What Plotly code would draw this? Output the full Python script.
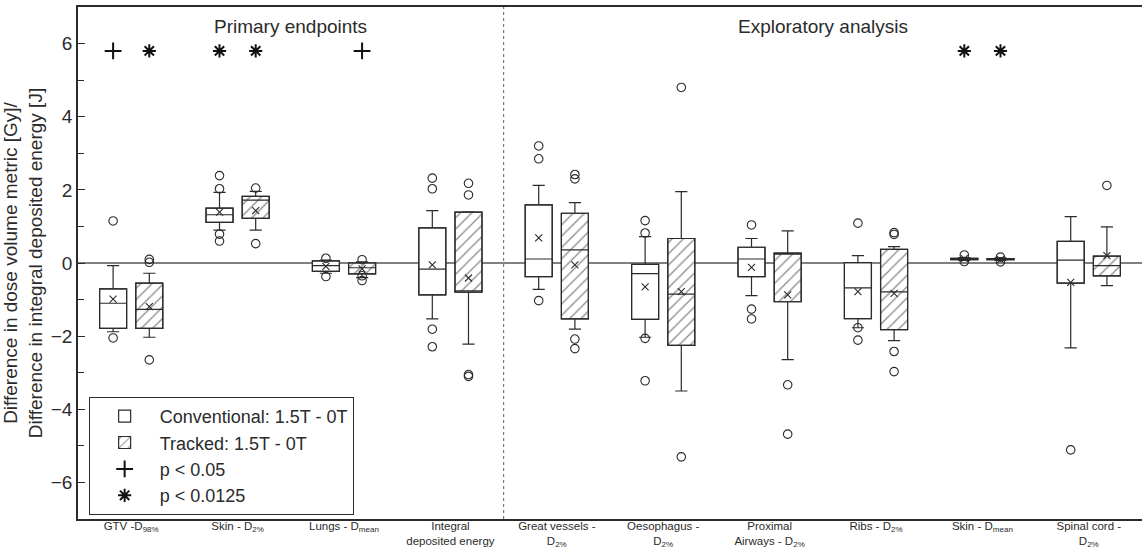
import plotly.graph_objects as go

# ---------------- data ----------------
categories = [
    "GTV -D<sub>98%</sub>",
    "Skin - D<sub>2%</sub>",
    "Lungs - D<sub>mean</sub>",
    "Integral<br>deposited energy",
    "Great vessels -<br>D<sub>2%</sub>",
    "Oesophagus -<br>D<sub>2%</sub>",
    "Proximal<br>Airways - D<sub>2%</sub>",
    "Ribs - D<sub>2%</sub>",
    "Skin - D<sub>mean</sub>",
    "Spinal cord -<br>D<sub>2%</sub>",
]

conv_lower = [-1.88, 0.90, -0.28, -1.53, -0.72, -2.03, -0.89, -1.77, 0.07, -2.32]
conv_q1 = [-1.79, 1.11, -0.23, -0.87, -0.37, -1.54, -0.37, -1.52, 0.09, -0.55]
conv_median = [-1.10, 1.32, -0.07, -0.17, 0.11, -0.29, 0.11, -0.68, 0.11, 0.08]
conv_q3 = [-0.71, 1.50, 0.06, 0.96, 1.59, -0.04, 0.43, 0.01, 0.13, 0.59]
conv_upper = [-0.07, 1.93, 0.08, 1.43, 2.12, 0.72, 0.67, 0.20, 0.15, 1.27]
conv_mean = [-0.99, 1.39, -0.09, -0.05, 0.69, -0.65, -0.12, -0.78, 0.12, -0.53]
conv_outliers = [
    [1.15, -2.05], [2.39, 2.03, 0.79, 0.60], [0.13, -0.37],
    [2.32, 2.03, -1.81, -2.29], [3.20, 2.85, -1.03], [1.16, 0.82, -2.06, -3.22],
    [1.04, -1.26, -1.53], [1.09, -1.77, -2.11], [0.22, 0.04], [-5.11],
]

trk_lower = [-2.03, 0.90, -0.40, -2.22, -1.81, -3.50, -2.64, -2.12, 0.07, -0.62]
trk_q1 = [-1.79, 1.22, -0.30, -0.80, -1.53, -2.25, -1.06, -1.82, 0.09, -0.35]
trk_median = [-1.27, 1.72, -0.13, -0.76, 0.36, -0.85, 0.24, -0.79, 0.10, -0.07]
trk_q3 = [-0.55, 1.82, 0.00, 1.39, 1.36, 0.67, 0.27, 0.37, 0.12, 0.19]
trk_upper = [-0.28, 1.96, 0.03, 1.40, 1.65, 1.95, 0.88, 0.45, 0.14, 0.99]
trk_mean = [-1.19, 1.43, -0.16, -0.41, -0.05, -0.78, -0.87, -0.83, 0.09, 0.20]
trk_outliers = [
    [0.10, 0.02, -2.65], [2.05, 0.53], [0.09, -0.35, -0.48],
    [2.18, 1.86, -3.05, -3.10], [2.42, 2.30, -2.08, -2.34], [4.80, -5.30],
    [-3.33, -4.68], [0.83, 0.78, -2.42, -2.97], [0.16, 0.03], [2.12],
]

# significance markers ('+' : p<0.05, '*' : p<0.0125)
sig_conv = ["+", "*", "", "", "", "", "", "", "*", ""]
sig_trk = ["*", "*", "+", "", "", "", "", "", "*", ""]
sig_level = 5.8

y_ticks = [-6, -4, -2, 0, 2, 4, 6]

# ---------------- styling ----------------
FONT = "Liberation Sans, Arial, Helvetica, sans-serif"
INK = "#2b2b2b"
OFF = 0.17
BW = 0.254

conv_x = [i - OFF for i in range(len(categories))]
trk_x = [i + OFF for i in range(len(categories))]

fig = go.Figure()

# box bodies (bars give fill / hatch, drawn below box outlines)
fig.add_trace(go.Bar(
    x=conv_x, base=conv_q1, y=[b - a for a, b in zip(conv_q1, conv_q3)],
    width=BW, name="Conventional: 1.5T - 0T",
    marker=dict(color="white", line=dict(color=INK, width=1.2)),
    hoverinfo="skip",
))
fig.add_trace(go.Bar(
    x=trk_x, base=trk_q1, y=[b - a for a, b in zip(trk_q1, trk_q3)],
    width=BW, name="Tracked: 1.5T - 0T",
    marker=dict(color="white", line=dict(color=INK, width=1.2),
                pattern=dict(shape="/", fillmode="overlay", fgcolor="#222",
                             bgcolor="white", size=8, solidity=0.17)),
    hoverinfo="skip",
))

# box plots (precomputed statistics)
for xs, lo, q1, med, q3, up in [
    (conv_x, conv_lower, conv_q1, conv_median, conv_q3, conv_upper),
    (trk_x, trk_lower, trk_q1, trk_median, trk_q3, trk_upper),
]:
    fig.add_trace(go.Box(
        x=xs, lowerfence=lo, q1=q1, median=med, q3=q3, upperfence=up,
        width=BW, whiskerwidth=0.45, boxpoints=False,
        fillcolor="rgba(0,0,0,0)", line=dict(color=INK, width=1.2),
        showlegend=False, hoverinfo="skip",
    ))

# means
fig.add_trace(go.Scatter(
    x=conv_x + trk_x, y=conv_mean + trk_mean, mode="markers",
    marker=dict(symbol="x-thin-open", size=7, color=INK, line=dict(color=INK, width=1.1)),
    showlegend=False, hoverinfo="skip",
))

# outliers
ox, oy = [], []
for xs, outs in [(conv_x, conv_outliers), (trk_x, trk_outliers)]:
    for xv, vals in zip(xs, outs):
        for v in vals:
            ox.append(xv)
            oy.append(v)
fig.add_trace(go.Scatter(
    x=ox, y=oy, mode="markers",
    marker=dict(symbol="circle-open", size=8.5, color=INK, line=dict(color=INK, width=1.1)),
    showlegend=False, hoverinfo="skip",
))

# significance markers
plus_x = [x for x, s in zip(conv_x + trk_x, sig_conv + sig_trk) if s == "+"]
star_x = [x for x, s in zip(conv_x + trk_x, sig_conv + sig_trk) if s == "*"]
fig.add_trace(go.Scatter(
    x=plus_x, y=[sig_level] * len(plus_x), mode="markers", name="p < 0.05",
    marker=dict(symbol="cross-thin-open", size=12, color="#111", line=dict(color="#111", width=2)),
    hoverinfo="skip",
))
fig.add_trace(go.Scatter(
    x=star_x, y=[sig_level] * len(star_x), mode="markers", name="p < 0.0125",
    marker=dict(symbol="asterisk-open", size=11, color="#111", line=dict(color="#111", width=2)),
    hoverinfo="skip",
))

# divider between primary endpoints and exploratory analysis
fig.add_shape(type="line", x0=3.5, x1=3.5, y0=0, y1=1, xref="x", yref="paper",
              line=dict(color="#777", width=1.2, dash="dot"), layer="below")

fig.add_annotation(x=1.5, y=0.962, xref="x", yref="paper", yanchor="middle",
                   text="Primary endpoints", showarrow=False,
                   font=dict(size=19, color=INK, family=FONT))
fig.add_annotation(x=6.5, y=0.962, xref="x", yref="paper", yanchor="middle",
                   text="Exploratory analysis", showarrow=False,
                   font=dict(size=19, color=INK, family=FONT))

fig.update_layout(
    width=1142, height=548,
    margin=dict(l=78, r=0, t=7, b=29),
    paper_bgcolor="white", plot_bgcolor="white",
    font=dict(family=FONT, color=INK),
    barmode="overlay", boxmode="overlay",
    legend=dict(
        x=0.01, y=0.008, xanchor="left", yanchor="bottom",
        bordercolor=INK, borderwidth=1, bgcolor="white",
        font=dict(size=18, family=FONT, color=INK),
        itemwidth=60, tracegroupgap=0,
    ),
    xaxis=dict(
        range=[-0.5, 9.5], tickvals=list(range(len(categories))), ticktext=categories,
        showgrid=False, zeroline=False, ticks="", ticklen=0, automargin=False,
        showline=True, linecolor=INK, linewidth=1.5, mirror=True,
        ticklabelstandoff=-5,
        tickfont=dict(size=11.5, family=FONT, color=INK),
    ),
    yaxis=dict(
        range=[-7, 7], tickvals=y_ticks, showgrid=False,
        zeroline=True, zerolinecolor="#808080", zerolinewidth=1.5,
        showline=True, linecolor=INK, linewidth=1.5, mirror=False,
        ticks="inside", ticklen=7, tickcolor=INK, tickwidth=1,
        minor=dict(tickvals=[-5, -3, -1, 1, 3, 5], ticks="inside", ticklen=6,
                   tickcolor=INK, tickwidth=1),
        tickfont=dict(size=19, family=FONT, color=INK),
        automargin=False,
        title=dict(text="Difference in dose volume metric [Gy]/<br>Difference in integral deposited energy [J]",
                   font=dict(size=19, family=FONT, color=INK), standoff=3),
    ),
)

fig.write_html("out.html", config={"displayModeBar": False},
               post_script="document.body.style.margin='0';")
